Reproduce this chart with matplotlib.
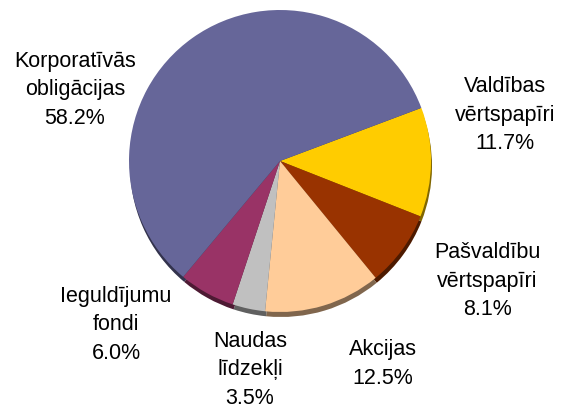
import matplotlib
matplotlib.use("Agg")
import matplotlib.pyplot as plt
import numpy as np
from matplotlib.colors import to_rgb

labels = ["Valdības\nvērtspapīri", "Pašvaldību\nvērtspapīri", "Akcijas",
          "Naudas\nlīdzekļi", "Ieguldījumu\nfondi", "Korporatīvās\nobligācijas"]
values = [11.7, 8.1, 12.5, 3.5, 6.0, 58.2]
colors = ["#FFCC00", "#993300", "#FFCC99", "#C0C0C0", "#993366", "#666699"]

W, H = 562, 410
fig = plt.figure(figsize=(W / 100, H / 100), dpi=100)
ax = fig.add_axes([0, 0, 1, 1])

cx, cy, r = 280, H - 162, 151
start = 20.6

dark = [tuple(np.array(to_rgb(c)) * 0.5) for c in colors]
ax.pie(values, colors=dark, startangle=start, counterclock=False,
       center=(cx + 1, cy - 5), radius=r, frame=True,
       wedgeprops=dict(linewidth=0))
ax.pie(values, colors=colors, startangle=start, counterclock=False,
       center=(cx, cy), radius=r, frame=True,
       wedgeprops=dict(linewidth=0))
ax.set_xlim(0, W)
ax.set_ylim(0, H)
ax.set_aspect("equal")
ax.axis("off")

label_pos = [(505, 115), (487, 281), (383, 364), (250, 370), (116, 325), (75, 90)]
for lab, v, (x, y) in zip(labels, values, label_pos):
    ax.text(x, H - y, f"{lab}\n{v:.1f}%", ha="center", va="center",
            fontsize=15.5, family="Liberation Sans", linespacing=1.45,
            color="black")

fig.savefig("out.png", dpi=100)
